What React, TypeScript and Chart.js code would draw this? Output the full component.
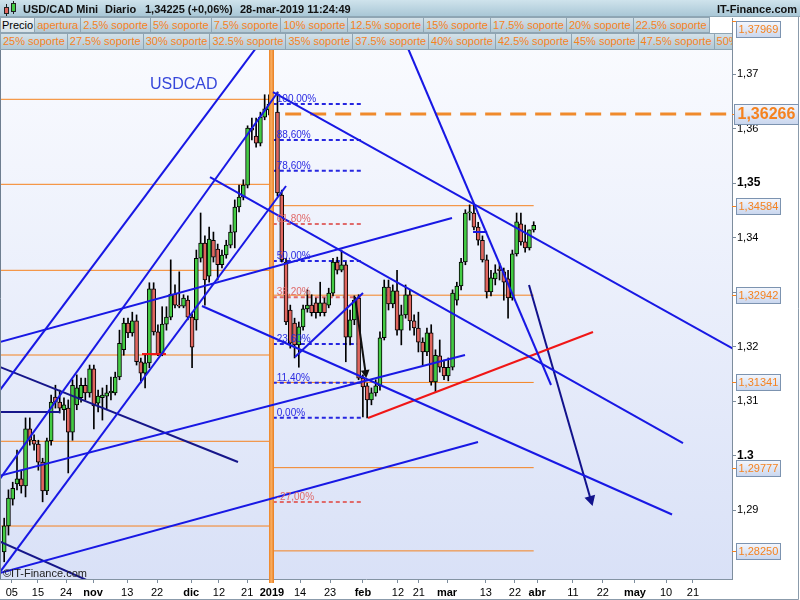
import React, { useEffect, useRef } from "react";
import { Chart, registerables } from "chart.js";

Chart.register(...registerables);

const FONT = "'Liberation Sans', Arial, Helvetica, sans-serif";

// Daily USD/CAD bars. Index 0 = 3-oct-2018, one slot per trading day.
// Slot 63 (1-jan) has no session.
const openPrices = [
  1.2823, 1.2871, 1.2920, 1.2948, 1.2957, 1.2944, 1.3049, 1.3028, 1.3021, 1.2988,
  1.2935, 1.3027, 1.3107, 1.3098, 1.3084, 1.3087, 1.3043, 1.3093, 1.3106, 1.3129,
  1.3115, 1.3159, 1.3096, 1.3106, 1.3109, 1.3115, 1.3115, 1.3144, 1.3194, 1.3243,
  1.3225, 1.3247, 1.3172, 1.3151, 1.3170, 1.3306, 1.3227, 1.3186, 1.3241, 1.3254,
  1.3296, 1.3276, 1.3274, 1.3285, 1.3254, 1.3249, 1.3362, 1.3390, 1.3329, 1.3395,
  1.3379, 1.3350, 1.3368, 1.3386, 1.3410, 1.3456, 1.3474, 1.3496, 1.3601, 1.3586,
  1.3573, 1.3621, 1.3634, null, 1.3630, 1.3478, 1.3355, 1.3267, 1.3243, 1.3203,
  1.3236, 1.3269, 1.3276, 1.3280, 1.3262, 1.3280, 1.3276, 1.3298, 1.3355, 1.3340,
  1.3350, 1.3217, 1.3249, 1.3289, 1.3142, 1.3128, 1.3102, 1.3115, 1.3128, 1.3216,
  1.3309, 1.3278, 1.3302, 1.3230, 1.3258, 1.3295, 1.3247, 1.3234, 1.3208, 1.3190,
  1.3225, 1.3135, 1.3183, 1.3162, 1.3146, 1.3162, 1.3285, 1.3311, 1.3355, 1.3445,
  1.3445, 1.3419, 1.3395, 1.3359, 1.3300, 1.3324, 1.3342, 1.3337, 1.3324, 1.3289,
  1.3370, 1.3425, 1.3392, 1.3381, 1.3414,
];
const highPrices = [
  1.2885, 1.2937, 1.2951, 1.3010, 1.2973, 1.3069, 1.3069, 1.3038, 1.3028, 1.2995,
  1.3032, 1.3111, 1.3129, 1.3120, 1.3106, 1.3102, 1.3139, 1.3148, 1.3142, 1.3142,
  1.3166, 1.3166, 1.3120, 1.3124, 1.3129, 1.3144, 1.3153, 1.3230, 1.3252, 1.3252,
  1.3263, 1.3258, 1.3179, 1.3184, 1.3317, 1.3317, 1.3240, 1.3273, 1.3273, 1.3359,
  1.3313, 1.3337, 1.3295, 1.3293, 1.3260, 1.3377, 1.3445, 1.3403, 1.3419, 1.3410,
  1.3388, 1.3377, 1.3395, 1.3423, 1.3469, 1.3496, 1.3506, 1.3605, 1.3619, 1.3619,
  1.3630, 1.3662, 1.3662, null, 1.3667, 1.3487, 1.3362, 1.3276, 1.3252, 1.3245,
  1.3276, 1.3304, 1.3295, 1.3289, 1.3318, 1.3289, 1.3307, 1.3362, 1.3364, 1.3377,
  1.3355, 1.3267, 1.3293, 1.3295, 1.3148, 1.3133, 1.3124, 1.3139, 1.3227, 1.3322,
  1.3322, 1.3313, 1.3340, 1.3276, 1.3313, 1.3304, 1.3258, 1.3263, 1.3216, 1.3234,
  1.3240, 1.3194, 1.3212, 1.3175, 1.3179, 1.3304, 1.3318, 1.3362, 1.3451, 1.3460,
  1.3460, 1.3428, 1.3403, 1.3368, 1.3340, 1.3350, 1.3353, 1.3344, 1.3340, 1.3377,
  1.3445, 1.3445, 1.3423, 1.3414, 1.3429,
];
const lowPrices = [
  1.2805, 1.2854, 1.2909, 1.2937, 1.2931, 1.2924, 1.3019, 1.3010, 1.2973, 1.2915,
  1.2928, 1.3019, 1.3087, 1.3078, 1.3065, 1.2968, 1.3028, 1.3084, 1.3098, 1.3102,
  1.3107, 1.3049, 1.3080, 1.3065, 1.3084, 1.3102, 1.3111, 1.3139, 1.3184, 1.3216,
  1.3219, 1.3166, 1.3133, 1.3124, 1.3161, 1.3221, 1.3183, 1.3183, 1.3230, 1.3249,
  1.3271, 1.3271, 1.3271, 1.3249, 1.3161, 1.3230, 1.3355, 1.3276, 1.3318, 1.3355,
  1.3322, 1.3344, 1.3362, 1.3381, 1.3381, 1.3447, 1.3469, 1.3491, 1.3579, 1.3566,
  1.3568, 1.3616, 1.3625, null, 1.3476, 1.3355, 1.3240, 1.3197, 1.3179, 1.3162,
  1.3230, 1.3263, 1.3256, 1.3252, 1.3256, 1.3256, 1.3271, 1.3293, 1.3333, 1.3337,
  1.3172, 1.3203, 1.3240, 1.3139, 1.3071, 1.3069, 1.3093, 1.3109, 1.3120, 1.3212,
  1.3267, 1.3271, 1.3221, 1.3203, 1.3252, 1.3230, 1.3221, 1.3190, 1.3166, 1.3183,
  1.3129, 1.3117, 1.3153, 1.3139, 1.3137, 1.3157, 1.3276, 1.3304, 1.3350, 1.3432,
  1.3414, 1.3386, 1.3355, 1.3289, 1.3293, 1.3313, 1.3322, 1.3285, 1.3252, 1.3285,
  1.3366, 1.3386, 1.3373, 1.3377, 1.3410,
];
const closePrices = [
  1.2871, 1.2922, 1.2940, 1.2957, 1.2944, 1.3049, 1.3028, 1.3021, 1.2988, 1.2935,
  1.3027, 1.3098, 1.3098, 1.3087, 1.3093, 1.3043, 1.3129, 1.3124, 1.3129, 1.3115,
  1.3159, 1.3091, 1.3109, 1.3111, 1.3115, 1.3118, 1.3144, 1.3206, 1.3243, 1.3225,
  1.3247, 1.3172, 1.3151, 1.3170, 1.3306, 1.3227, 1.3186, 1.3241, 1.3254, 1.3296,
  1.3276, 1.3274, 1.3289, 1.3254, 1.3199, 1.3362, 1.3390, 1.3322, 1.3397, 1.3364,
  1.3350, 1.3368, 1.3386, 1.3410, 1.3456, 1.3474, 1.3496, 1.3601, 1.3597, 1.3573,
  1.3621, 1.3636, 1.3645, null, 1.3482, 1.3359, 1.3245, 1.3206, 1.3203, 1.3236,
  1.3269, 1.3276, 1.3262, 1.3262, 1.3280, 1.3262, 1.3298, 1.3355, 1.3340, 1.3350,
  1.3217, 1.3249, 1.3285, 1.3142, 1.3126, 1.3102, 1.3115, 1.3128, 1.3216, 1.3309,
  1.3278, 1.3302, 1.3230, 1.3258, 1.3295, 1.3247, 1.3234, 1.3208, 1.3190, 1.3225,
  1.3135, 1.3184, 1.3162, 1.3146, 1.3162, 1.3298, 1.3311, 1.3355, 1.3445, 1.3447,
  1.3419, 1.3395, 1.3359, 1.3300, 1.3326, 1.3335, 1.3339, 1.3318, 1.3289, 1.3370,
  1.3429, 1.3392, 1.3381, 1.3414, 1.34225,
];

// Visible axis window (trading-day slots / price)
const dayRange = [-0.98, 170.44];
const priceRange = [1.27734, 1.38028];

// First slot of 2019 (orange separator)
const yearBreakDay = 62.6;

// Date axis
const xTickDays = [1.8, 7.9, 14.5, 20.8, 28.8, 35.8, 43.8, 50.3, 56.9, 62.7, 69.3, 76.3, 84.0, 92.2, 97.1, 103.7, 112.8, 119.6, 124.8, 133.2, 140.2, 147.7, 155.0, 161.3];
const xTickLabels = ["05", "15", "24", "nov", "13", "22", "dic", "12", "21", "2019", "14", "23", "feb", "12", "21", "mar", "13", "22", "abr", "11", "22", "may", "10", "21"];
const xTickBold = ["nov", "dic", "2019", "feb", "mar", "abr", "may"];

// Price axis
const yTickValues = [1.29, 1.30, 1.31, 1.32, 1.33, 1.34, 1.35, 1.36, 1.37];
const yTickLabels = ["1,29", "1.3", "1,31", "1,32", "1,33", "1,34", "1,35", "1,36", "1,37"];
const yTickBold = ["1.3", "1,35"];

// Price tags on the right axis
const priceTagValues = [1.37969, 1.36266, 1.34584, 1.32942, 1.31341, 1.29777, 1.2825];
const priceTagLabels = ["1,37969", "1,36266", "1,34584", "1,32942", "1,31341", "1,29777", "1,28250"];
const keyLevel = 1.36266;
const keyLevelSpan = [65.8, 169.5];

// Support levels of each year
const supports2018 = [1.36536, 1.34976, 1.33398, 1.31844, 1.30261, 1.28706];
const supports2018Span = [-2, 62.3];
const supports2019 = [1.37969, 1.34584, 1.32942, 1.31341, 1.29777, 1.2825];
const supports2019Span = [62.6, 124];

// Fibonacci retracement of the jan-2019 drop
const fibLabels = ["100,00%", "88,60%", "78,60%", "61,80%", "50,00%", "38,20%", "23,60%", "11,40%", "0,00%", "-27,00%"];
const fibPrices = [1.3645, 1.35789, 1.35226, 1.34248, 1.33569, 1.32903, 1.32046, 1.31336, 1.30694, 1.29147];
const fibWarm = [false, false, false, true, false, true, false, false, false, true];
const fibSpan = [62.9, 83.7];

// Drawn lines: [startDay, startPrice, endDay, endPrice]
const riseA = [-5.67, 1.30712, 64.59, 1.38064];
const riseB = [-5.67, 1.29062, 64.12, 1.3667];
const riseC = [-5.67, 1.27367, 66.0, 1.34945];
const riseD = [-5.67, 1.31982, 104.87, 1.34358];
const riseI = [-5.67, 1.29532, 107.92, 1.31844];
const riseM = [-5.67, 1.27743, 110.96, 1.30248];
const riseK = [68.1, 1.31807, 84.03, 1.32982];
const fallF = [48.2, 1.3511, 158.97, 1.30229];
const fallG = [46.32, 1.32743, 156.4, 1.28917];
const fallH = [62.95, 1.3667, 172.3, 1.31888];
const fallJ = [92.69, 1.37817, 128.06, 1.31294];
const blueFlat = [109.8, 1.34101, 113.1, 1.34101];
const navyE = [-5.67, 1.31771, 54.75, 1.29881];
const navyE2 = [-5.67, 1.28582, 22.44, 1.27606];
const navyFlat = [-5.67, 1.30798, 13.07, 1.30798];
const redRise = [85.2, 1.30688, 137.89, 1.32266];
const redFlat = [32.27, 1.31862, 37.89, 1.31862];
const blackArrow = [82.15, 1.32909, 84.73, 1.31459];
const navyArrow = [122.9, 1.33128, 137.66, 1.2911];

const row2Buttons = ["apertura", "2.5% soporte", "5% soporte", "7.5% soporte", "10% soporte", "12.5% soporte", "15% soporte", "17.5% soporte", "20% soporte", "22.5% soporte"];
const row3Buttons = ["25% soporte", "27.5% soporte", "30% soporte", "32.5% soporte", "35% soporte", "37.5% soporte", "40% soporte", "42.5% soporte", "45% soporte", "47.5% soporte", "50% soporte"];

const GREEN = "#44cc44";
const RED = "#e0665f";
const BLUE = "#1818e4";
const NAVY = "#16168a";
const ORANGE = "#f5821f";

function segment(line: number[], color: string, width = 2, extra: any = {}) {
  return {
    type: "line",
    data: [
      { x: line[0], y: line[1] },
      { x: line[2], y: line[3] },
    ],
    borderColor: color,
    backgroundColor: color,
    borderWidth: width,
    pointRadius: 0,
    pointHoverRadius: 0,
    fill: false,
    tension: 0,
    order: 0,
    ...extra,
  };
}

const decorPlugin = {
  id: "decor",
  beforeDraw(chart: any) {
    const { ctx, chartArea: a, width, height } = chart;
    ctx.save();
    ctx.fillStyle = "#ffffff";
    ctx.fillRect(0, 0, width, height);
    const g = ctx.createLinearGradient(0, a.top, 0, a.bottom);
    g.addColorStop(0, "#fbfcff");
    g.addColorStop(1, "#d9e1f7");
    ctx.fillStyle = g;
    ctx.fillRect(a.left, a.top, a.right - a.left, a.bottom - a.top);
    ctx.restore();
  },
  afterDatasetDraw(chart: any, args: any) {
    const ds = chart.data.datasets[args.index];
    if (ds.label !== "bodies") return;
    const { ctx, chartArea: a } = chart;
    const x = chart.scales.x.getPixelForValue(yearBreakDay);
    ctx.save();
    const g = ctx.createLinearGradient(x - 2.5, 0, x + 2.5, 0);
    g.addColorStop(0, "#ec8224");
    g.addColorStop(0.45, "#f8ae62");
    g.addColorStop(1, "#e97d1e");
    ctx.fillStyle = g;
    ctx.fillRect(x - 2.5, a.top, 5, a.bottom - a.top + 4);
    ctx.restore();
  },
  afterDatasetsDraw(chart: any) {
    const { ctx, chartArea: a } = chart;
    const xs = chart.scales.x;
    const ys = chart.scales.y;
    ctx.save();
    ctx.beginPath();
    ctx.rect(a.left, a.top, a.right - a.left, a.bottom - a.top);
    ctx.clip();

    // arrow heads
    chart.data.datasets.forEach((ds: any, i: number) => {
      if (!ds.arrowSize) return;
      const pts = chart.getDatasetMeta(i).data;
      const p0 = pts[0];
      const p1 = pts[1];
      const ang = Math.atan2(p1.y - p0.y, p1.x - p0.x);
      const len = ds.arrowSize;
      const half = ds.arrowSize * 0.55;
      const c = Math.cos(ang);
      const s = Math.sin(ang);
      const tx = p1.x + c * 2;
      const ty = p1.y + s * 2;
      ctx.fillStyle = ds.borderColor;
      ctx.beginPath();
      ctx.moveTo(tx, ty);
      ctx.lineTo(tx - len * c + half * s, ty - len * s - half * c);
      ctx.lineTo(tx - len * c - half * s, ty - len * s + half * c);
      ctx.closePath();
      ctx.fill();
    });

    // fibonacci labels
    ctx.font = `10px ${FONT}`;
    ctx.textBaseline = "alphabetic";
    ctx.textAlign = "left";
    const fx = xs.getPixelForValue(fibSpan[0]) + 4;
    fibPrices.forEach((p, k) => {
      ctx.fillStyle = fibWarm[k] ? "#e06a6a" : "#2a2ae2";
      ctx.fillText(fibLabels[k], fx, ys.getPixelForValue(p) - 2);
    });

    ctx.font = `16px ${FONT}`;
    ctx.fillStyle = "#3646da";
    ctx.fillText("USDCAD", a.left + 150, 89);

    ctx.font = `11px ${FONT}`;
    ctx.fillStyle = "#222";
    ctx.fillText("\u00A9IT-Finance.com", a.left + 3, a.bottom - 2);
    ctx.restore();
  },
  afterDraw(chart: any) {
    const { ctx, chartArea: a, width, height } = chart;
    const ys = chart.scales.y;
    ctx.save();
    // frame
    ctx.strokeStyle = "#6e7e90";
    ctx.lineWidth = 1;
    ctx.beginPath();
    ctx.moveTo(a.left + 0.5, a.top);
    ctx.lineTo(a.left + 0.5, a.bottom);
    ctx.stroke();
    ctx.strokeStyle = "#8b9bab";
    ctx.beginPath();
    ctx.moveTo(width - 1.5, 17);
    ctx.lineTo(width - 1.5, height - 0.5);
    ctx.lineTo(0, height - 0.5);
    ctx.stroke();

    priceTagValues.forEach((v, k) => {
      const y = ys.getPixelForValue(v);
      const big = v === keyLevel;
      ctx.strokeStyle = ORANGE;
      ctx.beginPath();
      ctx.moveTo(a.right, Math.round(y) + 0.5);
      ctx.lineTo(a.right + 4, Math.round(y) + 0.5);
      ctx.stroke();

      const label = priceTagLabels[k];
      ctx.font = big ? `bold 16px ${FONT}` : `11px ${FONT}`;
      const tw = ctx.measureText(label).width;
      const h = big ? 20 : 16;
      const cy = Math.round(Math.max(y, a.top + 11));
      const bx = a.right + (big ? 2.5 : 4.5);
      const bw = Math.round(tw + (big ? 6 : 4));
      const by = cy - h / 2 + 0.5;
      const g = ctx.createLinearGradient(0, by, 0, by + h);
      g.addColorStop(0, "#f4f7fd");
      g.addColorStop(1, "#c9d6ee");
      ctx.fillStyle = g;
      ctx.fillRect(bx, by, bw, h);
      ctx.strokeStyle = "#7c93b0";
      ctx.strokeRect(bx, by, bw, h);
      ctx.fillStyle = ORANGE;
      ctx.textBaseline = "middle";
      ctx.textAlign = "left";
      ctx.fillText(label, bx + (big ? 3 : 2), cy + 1);
    });
    ctx.restore();
  },
};

export default function App() {
  const canvasRef = useRef<HTMLCanvasElement | null>(null);

  useEffect(() => {
    const canvas = canvasRef.current;
    if (!canvas) return;

    const days = openPrices.map((_, i) => i).filter((i) => openPrices[i] != null);
    const bodies = days.map((i) => ({ x: i, y: [openPrices[i], closePrices[i]] }));
    const wicks = days.map((i) => ({ x: i, y: [lowPrices[i], highPrices[i]] }));
    const bodyColors = days.map((i) => ((closePrices[i] as number) >= (openPrices[i] as number) ? GREEN : RED));

    const datasets: any[] = [];

    supports2018.forEach((v) =>
      datasets.push(segment([supports2018Span[0], v, supports2018Span[1], v], ORANGE, 1, { order: 5 }))
    );
    supports2019.forEach((v) =>
      datasets.push(segment([supports2019Span[0], v, supports2019Span[1], v], ORANGE, 1, { order: 5 }))
    );
    datasets.push(
      segment([keyLevelSpan[0], keyLevel, keyLevelSpan[1], keyLevel], "#f08a2c", 3, {
        order: 5,
        borderDash: [16, 9],
      })
    );
    fibPrices.forEach((p, k) =>
      datasets.push(
        segment([fibSpan[0], p, fibSpan[1], p], fibWarm[k] ? "#e06a6a" : "#2626e0", 2, {
          order: 4,
          borderDash: [4, 3],
        })
      )
    );

    datasets.push({
      type: "bar",
      label: "wicks",
      data: wicks,
      backgroundColor: "#000",
      borderWidth: 0,
      barThickness: 1,
      grouped: false,
      order: 3,
    });
    datasets.push({
      type: "bar",
      label: "bodies",
      data: bodies,
      backgroundColor: bodyColors,
      borderColor: "#000",
      borderWidth: 1,
      borderSkipped: false,
      barThickness: 4,
      minBarLength: 1,
      grouped: false,
      order: 2,
    });

    [riseA, riseB, riseC, riseD, riseI, riseM, riseK, fallF, fallG, fallH, fallJ, blueFlat].forEach((l) =>
      datasets.push(segment(l, BLUE))
    );
    [navyE, navyE2, navyFlat].forEach((l) => datasets.push(segment(l, NAVY)));
    datasets.push(segment(redRise, "#f01616"));
    datasets.push(segment(redFlat, "#f01616"));
    datasets.push(segment(blackArrow, "#111111", 2, { arrowSize: 8 }));
    datasets.push(segment(navyArrow, "#12128c", 2, { arrowSize: 10 }));

    const chart = new Chart(canvas, {
      type: "bar",
      data: { datasets },
      plugins: [decorPlugin],
      options: {
        animation: false,
        responsive: false,
        devicePixelRatio: 1,
        events: [],
        layout: { padding: { top: 18, left: 0, right: 0, bottom: 0 } },
        plugins: { legend: { display: false }, tooltip: { enabled: false } },
        scales: {
          x: {
            type: "linear",
            min: dayRange[0],
            max: dayRange[1],
            offset: false,
            afterBuildTicks: (axis: any) => {
              axis.ticks = xTickDays.map((v) => ({ value: v }));
            },
            afterFit: (axis: any) => {
              axis.height = 21;
            },
            grid: { drawOnChartArea: false, offset: false, tickLength: 4, color: "#7d8d9d" },
            border: { display: true, color: "#8393a3" },
            ticks: {
              autoSkip: false,
              maxRotation: 0,
              padding: 3,
              color: "#000",
              callback: (_v: any, i: number) => xTickLabels[i],
              font: (c: any) => ({
                family: FONT,
                size: 11,
                weight: xTickBold.includes(xTickLabels[c.index]) ? "bold" : "normal",
              }),
            },
          },
          y: {
            type: "linear",
            position: "right",
            min: priceRange[0],
            max: priceRange[1],
            afterBuildTicks: (axis: any) => {
              axis.ticks = yTickValues.map((v) => ({ value: v }));
            },
            afterFit: (axis: any) => {
              axis.width = 68;
            },
            grid: { drawOnChartArea: false, tickLength: 4, color: "#7d8d9d" },
            border: { display: true, color: "#7d8d9d" },
            ticks: {
              padding: 1,
              color: "#000",
              callback: (_v: any, i: number) => yTickLabels[i],
              font: (c: any) => {
                const bold = yTickBold.includes(yTickLabels[c.index]);
                return { family: FONT, size: bold ? 12 : 11, weight: bold ? "bold" : "normal" };
              },
            },
          },
        },
      } as any,
    } as any);

    return () => chart.destroy();
  }, []);

  const button: React.CSSProperties = {
    display: "inline-block",
    flex: "0 0 auto",
    boxSizing: "border-box",
    height: 16,
    lineHeight: "14px",
    padding: "0 2px",
    borderTop: "1px solid #8fa5b3",
    borderBottom: "1px solid #8fa5b3",
    borderRight: "1px solid #8fa5b3",
    background: "linear-gradient(#d3e1e8, #b2c8d4)",
    color: ORANGE,
    fontSize: 11,
  };

  return (
    <div
      style={{
        position: "fixed",
        left: 0,
        top: 0,
        width: 800,
        height: 600,
        overflow: "hidden",
        background: "#fff",
        fontFamily: FONT,
      }}
    >
      <canvas ref={canvasRef} width={800} height={600} style={{ position: "absolute", left: 0, top: 0 }} />

      <div
        style={{
          position: "absolute",
          left: 0,
          top: 0,
          width: 800,
          height: 17,
          boxSizing: "border-box",
          background: "linear-gradient(#cfe3ec, #a9c7d6)",
          borderBottom: "1px solid #8ea6b4",
          font: `bold 11px ${FONT}`,
          color: "#111",
          lineHeight: "14px",
        }}
      >
        <span style={{ position: "absolute", left: 6, top: 4, width: 1, height: 12, background: "#222" }} />
        <span style={{ position: "absolute", left: 4, top: 7, width: 5, height: 7, background: RED, border: "1px solid #222", boxSizing: "border-box" }} />
        <span style={{ position: "absolute", left: 13, top: 1, width: 1, height: 13, background: "#222" }} />
        <span style={{ position: "absolute", left: 11, top: 3, width: 5, height: 9, background: GREEN, border: "1px solid #222", boxSizing: "border-box" }} />
        <span style={{ position: "absolute", left: 23, top: 2 }}>USD/CAD Mini</span>
        <span style={{ position: "absolute", left: 105, top: 2 }}>Diario</span>
        <span style={{ position: "absolute", left: 145, top: 2 }}>1,34225 (+0,06%)</span>
        <span style={{ position: "absolute", left: 240, top: 2 }}>28-mar-2019 11:24:49</span>
        <span style={{ position: "absolute", right: 3, top: 2 }}>IT-Finance.com</span>
      </div>

      <div
        style={{
          position: "absolute",
          left: 0,
          top: 17,
          width: 732,
          height: 16,
          display: "flex",
          overflow: "hidden",
          whiteSpace: "nowrap",
          background: "#fff",
        }}
      >
        <span
          style={{
            ...button,
            color: "#000",
            background: "linear-gradient(#eef3f6, #d6e2e8)",
            borderLeft: "1px solid #8fa5b3",
            padding: "0 1px",
          }}
        >
          Precio
        </span>
        {row2Buttons.map((t) => (
          <span key={t} style={button}>
            {t}
          </span>
        ))}
      </div>

      <div
        style={{
          position: "absolute",
          left: 0,
          top: 33,
          width: 732,
          height: 17,
          display: "flex",
          overflow: "hidden",
          whiteSpace: "nowrap",
          background: "#fff",
        }}
      >
        {row3Buttons.map((t, i) => (
          <span key={t} style={{ ...button, height: 17, lineHeight: "15px", borderLeft: i === 0 ? "1px solid #8fa5b3" : undefined }}>
            {t}
          </span>
        ))}
      </div>
    </div>
  );
}
